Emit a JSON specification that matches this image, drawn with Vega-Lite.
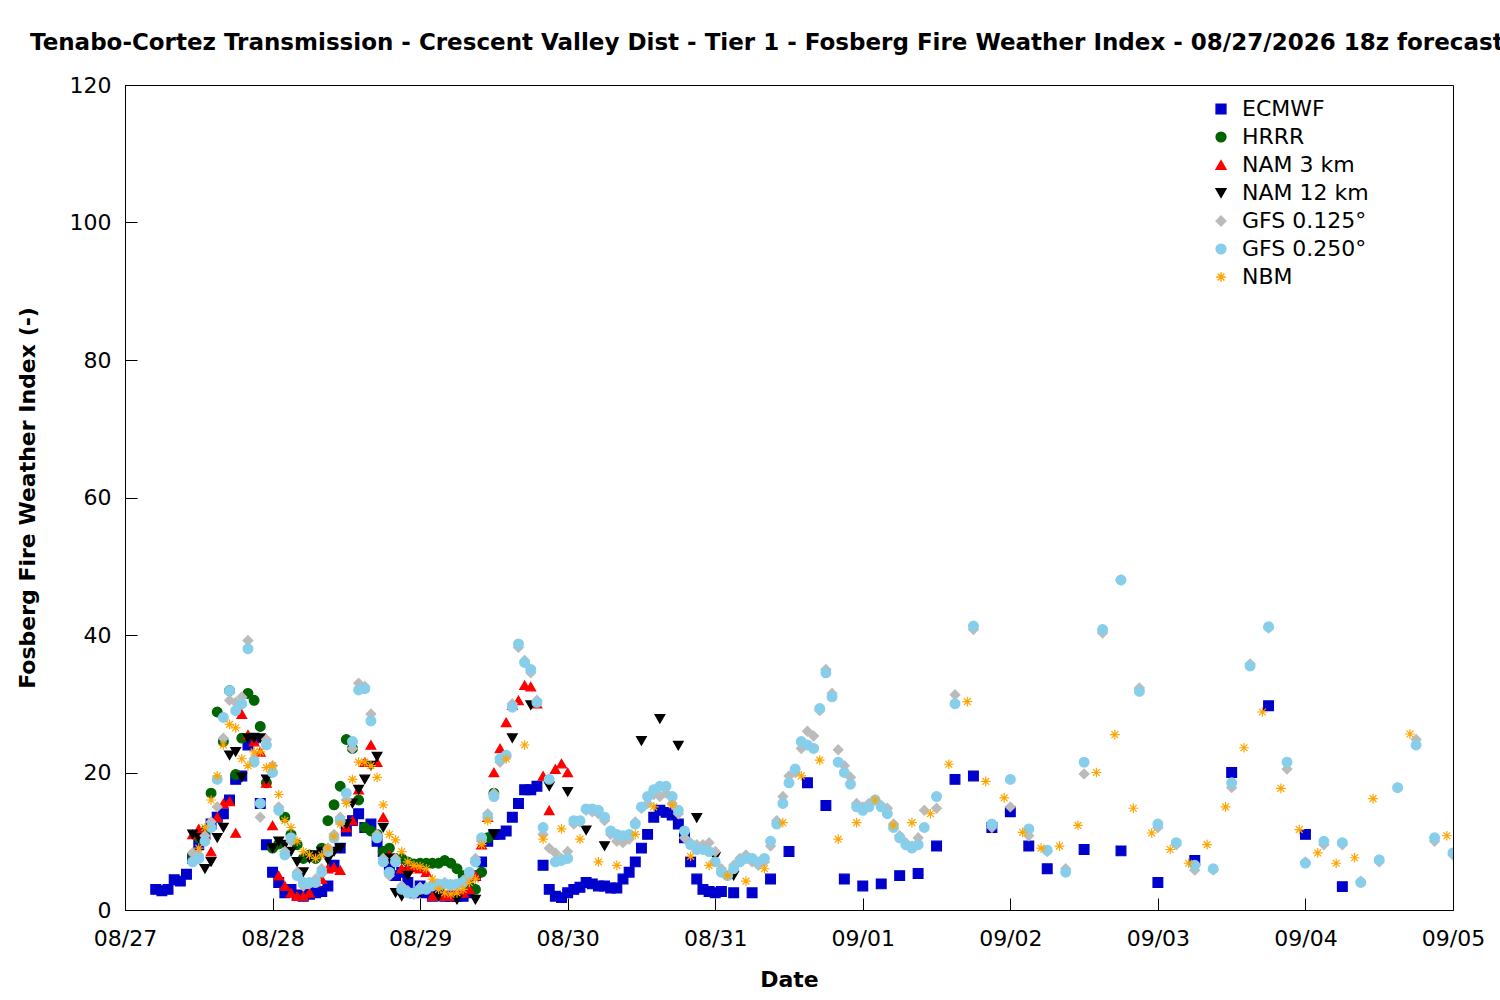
{
  "$schema": "https://vega.github.io/schema/vega-lite/v6.json",
  "width": 1328,
  "height": 825,
  "autosize": {"type": "none"},
  "padding": {"left": 125, "top": 85, "right": 47, "bottom": 90},
  "background": "white",
  "config": {
    "font": "DejaVu Sans",
    "view": {"stroke": "black", "strokeWidth": 1}
  },
  "title": {
    "text": "Tenabo-Cortez Transmission - Crescent Valley Dist - Tier 1 - Fosberg Fire Weather Index - 08/27/2026 18z forecast",
    "anchor": "start",
    "frame": "group",
    "dx": -95,
    "offset": 19,
    "fontSize": 23,
    "fontWeight": "bold",
    "font": "DejaVu Sans"
  },
  "data": {
    "values": [
      {"m":"ECMWF","h":5,"v":3},{"m":"ECMWF","h":6,"v":2.8},{"m":"ECMWF","h":7,"v":3},{"m":"ECMWF","h":8,"v":4.4},{"m":"ECMWF","h":9,"v":4.2},{"m":"ECMWF","h":10,"v":5.2},{"m":"ECMWF","h":11,"v":7.5},{"m":"ECMWF","h":12,"v":9.5},{"m":"ECMWF","h":13,"v":11},{"m":"ECMWF","h":14,"v":12.5},{"m":"ECMWF","h":15,"v":13.5},{"m":"ECMWF","h":16,"v":14},{"m":"ECMWF","h":17,"v":16},{"m":"ECMWF","h":18,"v":19},{"m":"ECMWF","h":19,"v":19.5},{"m":"ECMWF","h":20,"v":24},{"m":"ECMWF","h":21,"v":25},{"m":"ECMWF","h":22,"v":15.5},{"m":"ECMWF","h":23,"v":9.5},{"m":"ECMWF","h":24,"v":5.5},{"m":"ECMWF","h":25,"v":4},{"m":"ECMWF","h":26,"v":2.5},{"m":"ECMWF","h":27,"v":3},{"m":"ECMWF","h":28,"v":2.2},{"m":"ECMWF","h":29,"v":2},{"m":"ECMWF","h":30,"v":2.3},{"m":"ECMWF","h":31,"v":2.5},{"m":"ECMWF","h":32,"v":2.7},{"m":"ECMWF","h":33,"v":3.5},{"m":"ECMWF","h":34,"v":6.5},{"m":"ECMWF","h":35,"v":9},{"m":"ECMWF","h":36,"v":11.5},{"m":"ECMWF","h":37,"v":13},{"m":"ECMWF","h":38,"v":14},{"m":"ECMWF","h":39,"v":12},{"m":"ECMWF","h":40,"v":12.5},{"m":"ECMWF","h":41,"v":10},{"m":"ECMWF","h":42,"v":8.5},{"m":"ECMWF","h":43,"v":6},{"m":"ECMWF","h":44,"v":5},{"m":"ECMWF","h":45,"v":5.5},{"m":"ECMWF","h":46,"v":4},{"m":"ECMWF","h":47,"v":2.5},{"m":"ECMWF","h":48,"v":3.5},{"m":"ECMWF","h":49,"v":2.5},{"m":"ECMWF","h":50,"v":2},{"m":"ECMWF","h":51,"v":2.5},{"m":"ECMWF","h":52,"v":2},{"m":"ECMWF","h":53,"v":2},{"m":"ECMWF","h":54,"v":2},{"m":"ECMWF","h":55,"v":2},{"m":"ECMWF","h":56,"v":2.5},{"m":"ECMWF","h":57,"v":5},{"m":"ECMWF","h":58,"v":7},{"m":"ECMWF","h":59,"v":10},{"m":"ECMWF","h":60,"v":11},{"m":"ECMWF","h":61,"v":11},{"m":"ECMWF","h":62,"v":11.5},{"m":"ECMWF","h":63,"v":13.5},{"m":"ECMWF","h":64,"v":15.5},{"m":"ECMWF","h":65,"v":17.5},{"m":"ECMWF","h":66,"v":17.5},{"m":"ECMWF","h":67,"v":18},{"m":"ECMWF","h":68,"v":6.5},{"m":"ECMWF","h":69,"v":3},{"m":"ECMWF","h":70,"v":2},{"m":"ECMWF","h":71,"v":1.8},{"m":"ECMWF","h":72,"v":2.5},{"m":"ECMWF","h":73,"v":3},{"m":"ECMWF","h":74,"v":3.3},{"m":"ECMWF","h":75,"v":4},{"m":"ECMWF","h":76,"v":3.8},{"m":"ECMWF","h":77,"v":3.5},{"m":"ECMWF","h":78,"v":3.5},{"m":"ECMWF","h":79,"v":3.2},{"m":"ECMWF","h":80,"v":3.2},{"m":"ECMWF","h":81,"v":4.5},{"m":"ECMWF","h":82,"v":5.5},{"m":"ECMWF","h":83,"v":7},{"m":"ECMWF","h":84,"v":9},{"m":"ECMWF","h":85,"v":11},{"m":"ECMWF","h":86,"v":13.5},{"m":"ECMWF","h":87,"v":14.5},{"m":"ECMWF","h":88,"v":14.2},{"m":"ECMWF","h":89,"v":13.8},{"m":"ECMWF","h":90,"v":12.5},{"m":"ECMWF","h":91,"v":10.5},{"m":"ECMWF","h":92,"v":7},{"m":"ECMWF","h":93,"v":4.5},{"m":"ECMWF","h":94,"v":3},{"m":"ECMWF","h":95,"v":2.7},{"m":"ECMWF","h":96,"v":2.5},{"m":"ECMWF","h":97,"v":2.7},
      {"m":"ECMWF","h":99,"v":2.5},{"m":"ECMWF","h":102,"v":2.5},{"m":"ECMWF","h":105,"v":4.5},{"m":"ECMWF","h":108,"v":8.5},{"m":"ECMWF","h":111,"v":18.5},{"m":"ECMWF","h":114,"v":15.2},{"m":"ECMWF","h":117,"v":4.5},{"m":"ECMWF","h":120,"v":3.5},{"m":"ECMWF","h":123,"v":3.8},{"m":"ECMWF","h":126,"v":5},{"m":"ECMWF","h":129,"v":5.3},{"m":"ECMWF","h":132,"v":9.3},{"m":"ECMWF","h":135,"v":19},{"m":"ECMWF","h":138,"v":19.5},{"m":"ECMWF","h":141,"v":12},{"m":"ECMWF","h":144,"v":14.3},{"m":"ECMWF","h":147,"v":9.3},{"m":"ECMWF","h":150,"v":6},{"m":"ECMWF","h":156,"v":8.8},{"m":"ECMWF","h":162,"v":8.6},{"m":"ECMWF","h":168,"v":4},{"m":"ECMWF","h":174,"v":7.2},{"m":"ECMWF","h":180,"v":20},{"m":"ECMWF","h":186,"v":29.7},{"m":"ECMWF","h":192,"v":11},{"m":"ECMWF","h":198,"v":3.4},

      {"m":"HRRR","h":11,"v":8},{"m":"HRRR","h":12,"v":10.5},{"m":"HRRR","h":13,"v":11.5},{"m":"HRRR","h":14,"v":17},{"m":"HRRR","h":15,"v":28.8},{"m":"HRRR","h":16,"v":24.5},{"m":"HRRR","h":17,"v":31.9},{"m":"HRRR","h":18,"v":19.7},{"m":"HRRR","h":19,"v":25},{"m":"HRRR","h":20,"v":31.5},{"m":"HRRR","h":21,"v":30.5},{"m":"HRRR","h":22,"v":26.7},{"m":"HRRR","h":23,"v":18.5},{"m":"HRRR","h":24,"v":9},{"m":"HRRR","h":25,"v":9.6},{"m":"HRRR","h":26,"v":13.5},{"m":"HRRR","h":27,"v":11},{"m":"HRRR","h":28,"v":9.5},{"m":"HRRR","h":29,"v":7.5},{"m":"HRRR","h":30,"v":8},{"m":"HRRR","h":31,"v":7.5},{"m":"HRRR","h":32,"v":9},{"m":"HRRR","h":33,"v":13},{"m":"HRRR","h":34,"v":15.3},{"m":"HRRR","h":35,"v":18},{"m":"HRRR","h":36,"v":24.8},{"m":"HRRR","h":37,"v":23.5},{"m":"HRRR","h":38,"v":16},{"m":"HRRR","h":39,"v":12},{"m":"HRRR","h":40,"v":11.5},{"m":"HRRR","h":41,"v":11},{"m":"HRRR","h":42,"v":8.5},{"m":"HRRR","h":43,"v":9},{"m":"HRRR","h":44,"v":7.5},{"m":"HRRR","h":45,"v":7.5},{"m":"HRRR","h":46,"v":7},{"m":"HRRR","h":47,"v":6.7},{"m":"HRRR","h":48,"v":6.8},{"m":"HRRR","h":49,"v":6.8},{"m":"HRRR","h":50,"v":6.8},{"m":"HRRR","h":51,"v":6.8},{"m":"HRRR","h":52,"v":7.2},{"m":"HRRR","h":53,"v":6.8},{"m":"HRRR","h":54,"v":6},{"m":"HRRR","h":55,"v":5},{"m":"HRRR","h":56,"v":3.5},{"m":"HRRR","h":57,"v":3},{"m":"HRRR","h":58,"v":5.5},{"m":"HRRR","h":59,"v":10.5},{"m":"HRRR","h":60,"v":17},

      {"m":"NAM 3 km","h":11,"v":11},{"m":"NAM 3 km","h":12,"v":11.8},{"m":"NAM 3 km","h":13,"v":11},{"m":"NAM 3 km","h":14,"v":8.5},{"m":"NAM 3 km","h":15,"v":13.5},{"m":"NAM 3 km","h":16,"v":15.5},{"m":"NAM 3 km","h":17,"v":15.8},{"m":"NAM 3 km","h":18,"v":11.2},{"m":"NAM 3 km","h":19,"v":28.5},{"m":"NAM 3 km","h":20,"v":25.5},{"m":"NAM 3 km","h":21,"v":24.5},{"m":"NAM 3 km","h":22,"v":23},{"m":"NAM 3 km","h":23,"v":18.5},{"m":"NAM 3 km","h":24,"v":12.3},{"m":"NAM 3 km","h":25,"v":5},{"m":"NAM 3 km","h":26,"v":3.5},{"m":"NAM 3 km","h":27,"v":2.5},{"m":"NAM 3 km","h":28,"v":2},{"m":"NAM 3 km","h":29,"v":2},{"m":"NAM 3 km","h":30,"v":2.5},{"m":"NAM 3 km","h":31,"v":4},{"m":"NAM 3 km","h":32,"v":4.5},{"m":"NAM 3 km","h":33,"v":6},{"m":"NAM 3 km","h":34,"v":6.2},{"m":"NAM 3 km","h":35,"v":5.8},{"m":"NAM 3 km","h":36,"v":12},{"m":"NAM 3 km","h":37,"v":13},{"m":"NAM 3 km","h":38,"v":17.5},{"m":"NAM 3 km","h":39,"v":21.5},{"m":"NAM 3 km","h":40,"v":24},{"m":"NAM 3 km","h":41,"v":21.5},{"m":"NAM 3 km","h":42,"v":13.5},{"m":"NAM 3 km","h":43,"v":8},{"m":"NAM 3 km","h":44,"v":7.5},{"m":"NAM 3 km","h":45,"v":6},{"m":"NAM 3 km","h":46,"v":6},{"m":"NAM 3 km","h":47,"v":6.2},{"m":"NAM 3 km","h":48,"v":6},{"m":"NAM 3 km","h":49,"v":5.5},{"m":"NAM 3 km","h":50,"v":2},{"m":"NAM 3 km","h":51,"v":2},{"m":"NAM 3 km","h":52,"v":2},{"m":"NAM 3 km","h":53,"v":2},{"m":"NAM 3 km","h":54,"v":2.5},{"m":"NAM 3 km","h":55,"v":2.5},{"m":"NAM 3 km","h":56,"v":3},{"m":"NAM 3 km","h":57,"v":5},{"m":"NAM 3 km","h":58,"v":9.5},{"m":"NAM 3 km","h":59,"v":13.5},{"m":"NAM 3 km","h":60,"v":20},{"m":"NAM 3 km","h":61,"v":23.5},{"m":"NAM 3 km","h":62,"v":27.3},{"m":"NAM 3 km","h":63,"v":29.8},{"m":"NAM 3 km","h":64,"v":30.5},{"m":"NAM 3 km","h":65,"v":32.7},{"m":"NAM 3 km","h":66,"v":32.5},{"m":"NAM 3 km","h":67,"v":30},{"m":"NAM 3 km","h":68,"v":19.5},{"m":"NAM 3 km","h":69,"v":14.5},{"m":"NAM 3 km","h":70,"v":20.5},{"m":"NAM 3 km","h":71,"v":21.3},{"m":"NAM 3 km","h":72,"v":20},

      {"m":"NAM 12 km","h":11,"v":11},{"m":"NAM 12 km","h":12,"v":10.5},{"m":"NAM 12 km","h":13,"v":6},{"m":"NAM 12 km","h":14,"v":7},{"m":"NAM 12 km","h":15,"v":10.5},{"m":"NAM 12 km","h":16,"v":12},{"m":"NAM 12 km","h":17,"v":22.5},{"m":"NAM 12 km","h":18,"v":23},{"m":"NAM 12 km","h":19,"v":19.3},{"m":"NAM 12 km","h":20,"v":25},{"m":"NAM 12 km","h":21,"v":25},{"m":"NAM 12 km","h":22,"v":25},{"m":"NAM 12 km","h":23,"v":19},{"m":"NAM 12 km","h":24,"v":9},{"m":"NAM 12 km","h":25,"v":10},{"m":"NAM 12 km","h":26,"v":9.5},{"m":"NAM 12 km","h":27,"v":8.5},{"m":"NAM 12 km","h":28,"v":7},{"m":"NAM 12 km","h":29,"v":5.5},{"m":"NAM 12 km","h":30,"v":7.5},{"m":"NAM 12 km","h":31,"v":8},{"m":"NAM 12 km","h":32,"v":8.5},{"m":"NAM 12 km","h":33,"v":7.3},{"m":"NAM 12 km","h":34,"v":8.5},{"m":"NAM 12 km","h":35,"v":9},{"m":"NAM 12 km","h":36,"v":12.5},{"m":"NAM 12 km","h":37,"v":15.5},{"m":"NAM 12 km","h":38,"v":17.5},{"m":"NAM 12 km","h":39,"v":19},{"m":"NAM 12 km","h":40,"v":21},{"m":"NAM 12 km","h":41,"v":22.3},{"m":"NAM 12 km","h":42,"v":12},{"m":"NAM 12 km","h":43,"v":7.5},{"m":"NAM 12 km","h":44,"v":2.5},{"m":"NAM 12 km","h":45,"v":2},{"m":"NAM 12 km","h":46,"v":5},{"m":"NAM 12 km","h":47,"v":2.5},{"m":"NAM 12 km","h":48,"v":2.5},{"m":"NAM 12 km","h":51,"v":2},{"m":"NAM 12 km","h":54,"v":1.5},{"m":"NAM 12 km","h":57,"v":1.5},{"m":"NAM 12 km","h":60,"v":11},{"m":"NAM 12 km","h":63,"v":25},{"m":"NAM 12 km","h":66,"v":29.8},{"m":"NAM 12 km","h":69,"v":18},{"m":"NAM 12 km","h":72,"v":17.2},{"m":"NAM 12 km","h":75,"v":11.6},{"m":"NAM 12 km","h":78,"v":9.3},{"m":"NAM 12 km","h":84,"v":24.6},{"m":"NAM 12 km","h":87,"v":27.8},{"m":"NAM 12 km","h":90,"v":23.9},{"m":"NAM 12 km","h":93,"v":13.4},{"m":"NAM 12 km","h":96,"v":7.7},{"m":"NAM 12 km","h":99,"v":5},

      {"m":"GFS 0.125°","h":11,"v":8.3},{"m":"GFS 0.125°","h":12,"v":8},{"m":"GFS 0.125°","h":13,"v":10.8},{"m":"GFS 0.125°","h":14,"v":12.8},{"m":"GFS 0.125°","h":15,"v":15},{"m":"GFS 0.125°","h":16,"v":25},{"m":"GFS 0.125°","h":17,"v":30.5},{"m":"GFS 0.125°","h":18,"v":30.2},{"m":"GFS 0.125°","h":19,"v":31},{"m":"GFS 0.125°","h":20,"v":39.2},{"m":"GFS 0.125°","h":21,"v":22},{"m":"GFS 0.125°","h":22,"v":13.5},{"m":"GFS 0.125°","h":23,"v":24.8},{"m":"GFS 0.125°","h":24,"v":21},{"m":"GFS 0.125°","h":25,"v":15},{"m":"GFS 0.125°","h":26,"v":8.5},{"m":"GFS 0.125°","h":27,"v":10},{"m":"GFS 0.125°","h":28,"v":5.5},{"m":"GFS 0.125°","h":29,"v":3.5},{"m":"GFS 0.125°","h":30,"v":3.8},{"m":"GFS 0.125°","h":31,"v":4.5},{"m":"GFS 0.125°","h":32,"v":6},{"m":"GFS 0.125°","h":33,"v":9},{"m":"GFS 0.125°","h":34,"v":11},{"m":"GFS 0.125°","h":35,"v":13.5},{"m":"GFS 0.125°","h":36,"v":16},{"m":"GFS 0.125°","h":37,"v":23.5},{"m":"GFS 0.125°","h":38,"v":33},{"m":"GFS 0.125°","h":39,"v":32.5},{"m":"GFS 0.125°","h":40,"v":28.5},{"m":"GFS 0.125°","h":41,"v":11},{"m":"GFS 0.125°","h":42,"v":7.5},{"m":"GFS 0.125°","h":43,"v":5},{"m":"GFS 0.125°","h":44,"v":7.5},{"m":"GFS 0.125°","h":45,"v":3.5},{"m":"GFS 0.125°","h":46,"v":2.8},{"m":"GFS 0.125°","h":47,"v":2.3},{"m":"GFS 0.125°","h":48,"v":3.3},{"m":"GFS 0.125°","h":49,"v":3.3},{"m":"GFS 0.125°","h":50,"v":3.8},{"m":"GFS 0.125°","h":51,"v":3.5},{"m":"GFS 0.125°","h":52,"v":4},{"m":"GFS 0.125°","h":53,"v":3.5},{"m":"GFS 0.125°","h":54,"v":3.5},{"m":"GFS 0.125°","h":55,"v":4.3},{"m":"GFS 0.125°","h":56,"v":5},{"m":"GFS 0.125°","h":57,"v":7.5},{"m":"GFS 0.125°","h":58,"v":10},{"m":"GFS 0.125°","h":59,"v":14},{"m":"GFS 0.125°","h":60,"v":17},{"m":"GFS 0.125°","h":61,"v":21.5},{"m":"GFS 0.125°","h":62,"v":22.3},{"m":"GFS 0.125°","h":63,"v":30},{"m":"GFS 0.125°","h":64,"v":38.2},{"m":"GFS 0.125°","h":65,"v":36.3},{"m":"GFS 0.125°","h":66,"v":34.5},{"m":"GFS 0.125°","h":67,"v":30.5},{"m":"GFS 0.125°","h":68,"v":11},{"m":"GFS 0.125°","h":69,"v":9},{"m":"GFS 0.125°","h":70,"v":8.3},{"m":"GFS 0.125°","h":71,"v":7.5},{"m":"GFS 0.125°","h":72,"v":8.5},{"m":"GFS 0.125°","h":73,"v":12.5},{"m":"GFS 0.125°","h":74,"v":12.8},{"m":"GFS 0.125°","h":75,"v":14.5},{"m":"GFS 0.125°","h":76,"v":14.3},{"m":"GFS 0.125°","h":77,"v":14},{"m":"GFS 0.125°","h":78,"v":13},{"m":"GFS 0.125°","h":79,"v":11},{"m":"GFS 0.125°","h":80,"v":10},{"m":"GFS 0.125°","h":81,"v":9.8},{"m":"GFS 0.125°","h":82,"v":10.3},{"m":"GFS 0.125°","h":83,"v":12.8},{"m":"GFS 0.125°","h":84,"v":14.8},{"m":"GFS 0.125°","h":85,"v":15.5},{"m":"GFS 0.125°","h":86,"v":16.8},{"m":"GFS 0.125°","h":87,"v":16.5},{"m":"GFS 0.125°","h":88,"v":17},{"m":"GFS 0.125°","h":89,"v":15.5},{"m":"GFS 0.125°","h":90,"v":14},{"m":"GFS 0.125°","h":91,"v":10.5},{"m":"GFS 0.125°","h":92,"v":9.8},{"m":"GFS 0.125°","h":93,"v":9.5},{"m":"GFS 0.125°","h":94,"v":9.5},{"m":"GFS 0.125°","h":95,"v":9.8},{"m":"GFS 0.125°","h":96,"v":8.5},{"m":"GFS 0.125°","h":97,"v":6},{"m":"GFS 0.125°","h":98,"v":5},{"m":"GFS 0.125°","h":99,"v":6.5},{"m":"GFS 0.125°","h":100,"v":7.5},{"m":"GFS 0.125°","h":101,"v":8},{"m":"GFS 0.125°","h":102,"v":7},{"m":"GFS 0.125°","h":103,"v":6.5},{"m":"GFS 0.125°","h":104,"v":7},{"m":"GFS 0.125°","h":105,"v":9.3},{"m":"GFS 0.125°","h":106,"v":13},{"m":"GFS 0.125°","h":107,"v":16.5},{"m":"GFS 0.125°","h":108,"v":19.5},{"m":"GFS 0.125°","h":109,"v":20},{"m":"GFS 0.125°","h":110,"v":23.5},{"m":"GFS 0.125°","h":111,"v":26},{"m":"GFS 0.125°","h":112,"v":25.3},{"m":"GFS 0.125°","h":113,"v":29},{"m":"GFS 0.125°","h":114,"v":35},{"m":"GFS 0.125°","h":115,"v":31.5},{"m":"GFS 0.125°","h":116,"v":23.3},{"m":"GFS 0.125°","h":117,"v":21},{"m":"GFS 0.125°","h":118,"v":19.3},{"m":"GFS 0.125°","h":119,"v":15.5},{"m":"GFS 0.125°","h":120,"v":15},{"m":"GFS 0.125°","h":121,"v":15.5},{"m":"GFS 0.125°","h":122,"v":16},{"m":"GFS 0.125°","h":123,"v":15.2},{"m":"GFS 0.125°","h":124,"v":14.8},{"m":"GFS 0.125°","h":125,"v":12.5},{"m":"GFS 0.125°","h":126,"v":10.8},{"m":"GFS 0.125°","h":127,"v":9.8},{"m":"GFS 0.125°","h":128,"v":9.3},{"m":"GFS 0.125°","h":129,"v":10.5},{"m":"GFS 0.125°","h":130,"v":14.5},
      {"m":"GFS 0.125°","h":132,"v":14.8},{"m":"GFS 0.125°","h":135,"v":31.3},{"m":"GFS 0.125°","h":138,"v":40.8},{"m":"GFS 0.125°","h":141,"v":12},{"m":"GFS 0.125°","h":144,"v":15},{"m":"GFS 0.125°","h":147,"v":10.8},{"m":"GFS 0.125°","h":150,"v":8.5},{"m":"GFS 0.125°","h":153,"v":6},{"m":"GFS 0.125°","h":156,"v":19.8},{"m":"GFS 0.125°","h":159,"v":40.3},{"m":"GFS 0.125°","h":162,"v":48},{"m":"GFS 0.125°","h":165,"v":32.3},{"m":"GFS 0.125°","h":168,"v":12},{"m":"GFS 0.125°","h":171,"v":9.5},{"m":"GFS 0.125°","h":174,"v":5.8},{"m":"GFS 0.125°","h":177,"v":5.8},{"m":"GFS 0.125°","h":180,"v":17.8},{"m":"GFS 0.125°","h":183,"v":35.8},{"m":"GFS 0.125°","h":186,"v":41},{"m":"GFS 0.125°","h":189,"v":20.5},{"m":"GFS 0.125°","h":192,"v":7},{"m":"GFS 0.125°","h":195,"v":9.5},{"m":"GFS 0.125°","h":198,"v":9.5},{"m":"GFS 0.125°","h":201,"v":4.2},{"m":"GFS 0.125°","h":204,"v":7},{"m":"GFS 0.125°","h":207,"v":17.8},{"m":"GFS 0.125°","h":210,"v":24.8},{"m":"GFS 0.125°","h":213,"v":10},{"m":"GFS 0.125°","h":216,"v":8},

      {"m":"GFS 0.250°","h":11,"v":7},{"m":"GFS 0.250°","h":12,"v":7.5},{"m":"GFS 0.250°","h":13,"v":10},{"m":"GFS 0.250°","h":14,"v":12},{"m":"GFS 0.250°","h":15,"v":19},{"m":"GFS 0.250°","h":16,"v":28},{"m":"GFS 0.250°","h":17,"v":31.9},{"m":"GFS 0.250°","h":18,"v":29},{"m":"GFS 0.250°","h":19,"v":30},{"m":"GFS 0.250°","h":20,"v":38},{"m":"GFS 0.250°","h":21,"v":21.5},{"m":"GFS 0.250°","h":22,"v":15.5},{"m":"GFS 0.250°","h":23,"v":24},{"m":"GFS 0.250°","h":24,"v":20},{"m":"GFS 0.250°","h":25,"v":14.5},{"m":"GFS 0.250°","h":26,"v":8},{"m":"GFS 0.250°","h":27,"v":10.5},{"m":"GFS 0.250°","h":28,"v":5},{"m":"GFS 0.250°","h":29,"v":4},{"m":"GFS 0.250°","h":30,"v":4},{"m":"GFS 0.250°","h":31,"v":4},{"m":"GFS 0.250°","h":32,"v":5.5},{"m":"GFS 0.250°","h":33,"v":8.5},{"m":"GFS 0.250°","h":34,"v":10.5},{"m":"GFS 0.250°","h":35,"v":13},{"m":"GFS 0.250°","h":36,"v":17},{"m":"GFS 0.250°","h":37,"v":24.5},{"m":"GFS 0.250°","h":38,"v":32},{"m":"GFS 0.250°","h":39,"v":32.2},{"m":"GFS 0.250°","h":40,"v":27.5},{"m":"GFS 0.250°","h":41,"v":10.5},{"m":"GFS 0.250°","h":42,"v":7},{"m":"GFS 0.250°","h":43,"v":5.5},{"m":"GFS 0.250°","h":44,"v":7},{"m":"GFS 0.250°","h":45,"v":3},{"m":"GFS 0.250°","h":46,"v":2.5},{"m":"GFS 0.250°","h":47,"v":2.5},{"m":"GFS 0.250°","h":48,"v":3},{"m":"GFS 0.250°","h":49,"v":3},{"m":"GFS 0.250°","h":50,"v":3.5},{"m":"GFS 0.250°","h":51,"v":3.8},{"m":"GFS 0.250°","h":52,"v":3.8},{"m":"GFS 0.250°","h":53,"v":3.7},{"m":"GFS 0.250°","h":54,"v":3.8},{"m":"GFS 0.250°","h":55,"v":4},{"m":"GFS 0.250°","h":56,"v":5.5},{"m":"GFS 0.250°","h":57,"v":7},{"m":"GFS 0.250°","h":58,"v":10.5},{"m":"GFS 0.250°","h":59,"v":13.5},{"m":"GFS 0.250°","h":60,"v":16.5},{"m":"GFS 0.250°","h":61,"v":22},{"m":"GFS 0.250°","h":62,"v":22.5},{"m":"GFS 0.250°","h":63,"v":29.5},{"m":"GFS 0.250°","h":64,"v":38.7},{"m":"GFS 0.250°","h":65,"v":36},{"m":"GFS 0.250°","h":66,"v":35},{"m":"GFS 0.250°","h":67,"v":30.2},{"m":"GFS 0.250°","h":68,"v":12},{"m":"GFS 0.250°","h":69,"v":19},{"m":"GFS 0.250°","h":70,"v":7},{"m":"GFS 0.250°","h":71,"v":7.2},{"m":"GFS 0.250°","h":72,"v":7.5},{"m":"GFS 0.250°","h":73,"v":13},{"m":"GFS 0.250°","h":74,"v":13},{"m":"GFS 0.250°","h":75,"v":14.7},{"m":"GFS 0.250°","h":76,"v":14.7},{"m":"GFS 0.250°","h":77,"v":14.5},{"m":"GFS 0.250°","h":78,"v":13.5},{"m":"GFS 0.250°","h":79,"v":11.5},{"m":"GFS 0.250°","h":80,"v":11},{"m":"GFS 0.250°","h":81,"v":10.8},{"m":"GFS 0.250°","h":82,"v":11},{"m":"GFS 0.250°","h":83,"v":12.5},{"m":"GFS 0.250°","h":84,"v":15},{"m":"GFS 0.250°","h":85,"v":16.5},{"m":"GFS 0.250°","h":86,"v":17.5},{"m":"GFS 0.250°","h":87,"v":18},{"m":"GFS 0.250°","h":88,"v":18},{"m":"GFS 0.250°","h":89,"v":16.5},{"m":"GFS 0.250°","h":90,"v":14.5},{"m":"GFS 0.250°","h":91,"v":11.5},{"m":"GFS 0.250°","h":92,"v":9.5},{"m":"GFS 0.250°","h":93,"v":8.8},{"m":"GFS 0.250°","h":94,"v":8.8},{"m":"GFS 0.250°","h":95,"v":8.5},{"m":"GFS 0.250°","h":96,"v":7},{"m":"GFS 0.250°","h":97,"v":5.5},{"m":"GFS 0.250°","h":98,"v":5},{"m":"GFS 0.250°","h":99,"v":6},{"m":"GFS 0.250°","h":100,"v":7},{"m":"GFS 0.250°","h":101,"v":7.5},{"m":"GFS 0.250°","h":102,"v":7.5},{"m":"GFS 0.250°","h":103,"v":7},{"m":"GFS 0.250°","h":104,"v":7.5},{"m":"GFS 0.250°","h":105,"v":10},{"m":"GFS 0.250°","h":106,"v":12.5},{"m":"GFS 0.250°","h":107,"v":15.5},{"m":"GFS 0.250°","h":108,"v":18.5},{"m":"GFS 0.250°","h":109,"v":20.5},{"m":"GFS 0.250°","h":110,"v":24.5},{"m":"GFS 0.250°","h":111,"v":24},{"m":"GFS 0.250°","h":112,"v":23.5},{"m":"GFS 0.250°","h":113,"v":29.3},{"m":"GFS 0.250°","h":114,"v":34.5},{"m":"GFS 0.250°","h":115,"v":31},{"m":"GFS 0.250°","h":116,"v":21.5},{"m":"GFS 0.250°","h":117,"v":20},{"m":"GFS 0.250°","h":118,"v":18.3},{"m":"GFS 0.250°","h":119,"v":15},{"m":"GFS 0.250°","h":120,"v":14.5},{"m":"GFS 0.250°","h":121,"v":15},{"m":"GFS 0.250°","h":122,"v":16},{"m":"GFS 0.250°","h":123,"v":15},{"m":"GFS 0.250°","h":124,"v":14},{"m":"GFS 0.250°","h":125,"v":12},{"m":"GFS 0.250°","h":126,"v":10.5},{"m":"GFS 0.250°","h":127,"v":9.5},{"m":"GFS 0.250°","h":128,"v":9},{"m":"GFS 0.250°","h":129,"v":9.5},{"m":"GFS 0.250°","h":130,"v":12},
      {"m":"GFS 0.250°","h":132,"v":16.5},{"m":"GFS 0.250°","h":135,"v":30},{"m":"GFS 0.250°","h":138,"v":41.3},{"m":"GFS 0.250°","h":141,"v":12.5},{"m":"GFS 0.250°","h":144,"v":19},{"m":"GFS 0.250°","h":147,"v":11.8},{"m":"GFS 0.250°","h":150,"v":8.7},{"m":"GFS 0.250°","h":153,"v":5.5},{"m":"GFS 0.250°","h":156,"v":21.5},{"m":"GFS 0.250°","h":159,"v":40.8},{"m":"GFS 0.250°","h":162,"v":48},{"m":"GFS 0.250°","h":165,"v":31.8},{"m":"GFS 0.250°","h":168,"v":12.5},{"m":"GFS 0.250°","h":171,"v":9.8},{"m":"GFS 0.250°","h":174,"v":6.5},{"m":"GFS 0.250°","h":177,"v":6},{"m":"GFS 0.250°","h":180,"v":18.5},{"m":"GFS 0.250°","h":183,"v":35.5},{"m":"GFS 0.250°","h":186,"v":41.2},{"m":"GFS 0.250°","h":189,"v":21.5},{"m":"GFS 0.250°","h":192,"v":6.8},{"m":"GFS 0.250°","h":195,"v":10},{"m":"GFS 0.250°","h":198,"v":9.8},{"m":"GFS 0.250°","h":201,"v":4},{"m":"GFS 0.250°","h":204,"v":7.3},{"m":"GFS 0.250°","h":207,"v":17.8},{"m":"GFS 0.250°","h":210,"v":24},{"m":"GFS 0.250°","h":213,"v":10.5},{"m":"GFS 0.250°","h":216,"v":8.3},

      {"m":"NBM","h":12,"v":9},{"m":"NBM","h":13,"v":12},{"m":"NBM","h":14,"v":16},{"m":"NBM","h":15,"v":19.5},{"m":"NBM","h":16,"v":24},{"m":"NBM","h":17,"v":27},{"m":"NBM","h":18,"v":26.5},{"m":"NBM","h":19,"v":22},{"m":"NBM","h":20,"v":21},{"m":"NBM","h":21,"v":23},{"m":"NBM","h":22,"v":23},{"m":"NBM","h":23,"v":20.7},{"m":"NBM","h":24,"v":21},{"m":"NBM","h":25,"v":16.8},{"m":"NBM","h":26,"v":13},{"m":"NBM","h":27,"v":12},{"m":"NBM","h":28,"v":10},{"m":"NBM","h":29,"v":8.5},{"m":"NBM","h":30,"v":8},{"m":"NBM","h":31,"v":7.5},{"m":"NBM","h":32,"v":8},{"m":"NBM","h":33,"v":9},{"m":"NBM","h":34,"v":10.7},{"m":"NBM","h":35,"v":12.5},{"m":"NBM","h":36,"v":15.5},{"m":"NBM","h":37,"v":19},{"m":"NBM","h":38,"v":21.5},{"m":"NBM","h":39,"v":21.5},{"m":"NBM","h":40,"v":21},{"m":"NBM","h":41,"v":19.3},{"m":"NBM","h":42,"v":15.3},{"m":"NBM","h":43,"v":11},{"m":"NBM","h":44,"v":10.2},{"m":"NBM","h":45,"v":8.5},{"m":"NBM","h":46,"v":7},{"m":"NBM","h":47,"v":6.5},{"m":"NBM","h":48,"v":6.3},{"m":"NBM","h":49,"v":6},{"m":"NBM","h":50,"v":4.5},{"m":"NBM","h":51,"v":3},{"m":"NBM","h":52,"v":2.5},{"m":"NBM","h":53,"v":2.3},{"m":"NBM","h":54,"v":2.5},{"m":"NBM","h":55,"v":3},{"m":"NBM","h":56,"v":4},{"m":"NBM","h":57,"v":4.5},{"m":"NBM","h":58,"v":9.5},{"m":"NBM","h":59,"v":13},
      {"m":"NBM","h":62,"v":22},{"m":"NBM","h":65,"v":24},{"m":"NBM","h":68,"v":10.3},{"m":"NBM","h":71,"v":11.8},{"m":"NBM","h":74,"v":10.3},{"m":"NBM","h":77,"v":7},{"m":"NBM","h":80,"v":6.5},{"m":"NBM","h":83,"v":11},{"m":"NBM","h":86,"v":15},{"m":"NBM","h":89,"v":15.3},{"m":"NBM","h":92,"v":7.8},{"m":"NBM","h":95,"v":6.5},{"m":"NBM","h":98,"v":5},{"m":"NBM","h":101,"v":4.2},{"m":"NBM","h":104,"v":6},{"m":"NBM","h":107,"v":12.7},{"m":"NBM","h":110,"v":19.5},{"m":"NBM","h":113,"v":21.8},{"m":"NBM","h":116,"v":10.3},{"m":"NBM","h":119,"v":12.7},{"m":"NBM","h":122,"v":16},{"m":"NBM","h":125,"v":12.3},{"m":"NBM","h":128,"v":12.7},{"m":"NBM","h":131,"v":14},{"m":"NBM","h":134,"v":21.2},{"m":"NBM","h":137,"v":30.3},{"m":"NBM","h":140,"v":18.7},{"m":"NBM","h":143,"v":16.3},{"m":"NBM","h":146,"v":11.3},{"m":"NBM","h":149,"v":9},{"m":"NBM","h":152,"v":9.3},{"m":"NBM","h":155,"v":12.3},{"m":"NBM","h":158,"v":20},{"m":"NBM","h":161,"v":25.5},{"m":"NBM","h":164,"v":14.8},{"m":"NBM","h":167,"v":11.2},{"m":"NBM","h":170,"v":8.8},{"m":"NBM","h":173,"v":6.8},{"m":"NBM","h":176,"v":9.5},{"m":"NBM","h":179,"v":15},{"m":"NBM","h":182,"v":23.6},{"m":"NBM","h":185,"v":28.8},{"m":"NBM","h":188,"v":17.7},{"m":"NBM","h":191,"v":11.7},{"m":"NBM","h":194,"v":8.3},{"m":"NBM","h":197,"v":6.8},{"m":"NBM","h":200,"v":7.6},{"m":"NBM","h":203,"v":16.2},{"m":"NBM","h":209,"v":25.6},{"m":"NBM","h":215,"v":10.8}
    ]
  },
  "mark": {"type": "point", "filled": true, "size": 95, "strokeWidth": 1.2, "opacity": 1, "clip": true},
  "encoding": {
    "x": {
      "field": "h", "type": "quantitative",
      "scale": {"domain": [0, 216], "nice": false, "zero": false},
      "axis": {
        "title": "Date", "titleFontSize": 22, "titleFontWeight": "bold", "titleColor": "black", "titlePadding": 20,
        "values": [0, 24, 48, 72, 96, 120, 144, 168, 192, 216],
        "labelExpr": "timeFormat(datetime(2026, 7, 27 + datum.value / 24), '%m/%d')",
        "labelFontSize": 22, "labelColor": "black", "labelPadding": 30, "labelFlush": false,
        "grid": false, "tickSize": -12, "tickColor": "black", "domainColor": "black"
      }
    },
    "y": {
      "field": "v", "type": "quantitative",
      "scale": {"domain": [0, 120], "nice": false},
      "axis": {
        "title": "Fosberg Fire Weather Index (-)", "titleFontSize": 22, "titleFontWeight": "bold", "titleColor": "black", "titlePadding": 30,
        "values": [0, 20, 40, 60, 80, 100, 120],
        "labelFontSize": 22, "labelColor": "black", "labelPadding": 26,
        "grid": false, "tickSize": -12, "tickColor": "black", "domainColor": "black"
      }
    },
    "color": {
      "field": "m", "type": "nominal",
      "scale": {
        "domain": ["ECMWF", "HRRR", "NAM 3 km", "NAM 12 km", "GFS 0.125°", "GFS 0.250°", "NBM"],
        "range": ["#0000cc", "#006400", "#ff0000", "#000000", "#bbbbbb", "#87ceeb", "#ffa500"]
      },
      "legend": {
        "title": null, "orient": "none", "legendX": 1085, "legendY": 13,
        "labelFontSize": 22, "labelColor": "black", "symbolSize": 95,
        "rowPadding": 6, "labelOffset": 10, "padding": 0
      }
    },
    "stroke": {
      "field": "m", "type": "nominal",
      "scale": {
        "domain": ["ECMWF", "HRRR", "NAM 3 km", "NAM 12 km", "GFS 0.125°", "GFS 0.250°", "NBM"],
        "range": ["#0000cc", "#006400", "#ff0000", "#000000", "#bbbbbb", "#87ceeb", "#ffa500"]
      },
      "legend": null
    },
    "shape": {
      "field": "m", "type": "nominal",
      "scale": {
        "domain": ["ECMWF", "HRRR", "NAM 3 km", "NAM 12 km", "GFS 0.125°", "GFS 0.250°", "NBM"],
        "range": ["square", "circle", "triangle-up", "triangle-down", "diamond", "circle", "M-1,0L1,0M0,-1L0,1M-0.7,-0.7L0.7,0.7M-0.7,0.7L0.7,-0.7"]
      },
      "legend": null
    }
  }
}
